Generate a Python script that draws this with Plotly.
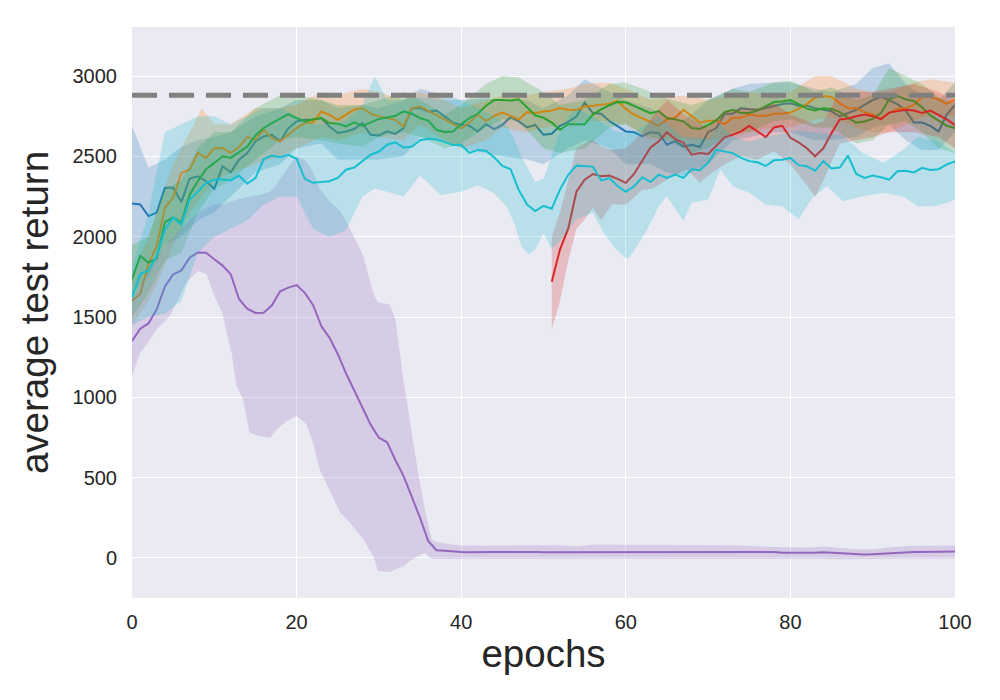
import plotly.graph_objects as go

# epochs 0..100
epochs = list(range(101))
red_epochs = list(range(51, 101))

blue = [2207, 2200, 2128, 2150, 2304, 2304, 2215, 2362, 2376, 2345, 2298, 2438, 2401, 2479, 2521, 2593, 2624,
        2634, 2593, 2676, 2717, 2727, 2730, 2738, 2686, 2645, 2655, 2670, 2707, 2634, 2630, 2655, 2640, 2676,
        2800, 2800, 2779, 2785, 2748, 2710, 2696, 2690, 2655, 2700, 2669, 2696, 2744, 2717, 2680, 2696, 2634,
        2640, 2690, 2715, 2748, 2835, 2769, 2765, 2720, 2686, 2655, 2650, 2625, 2650, 2645, 2572, 2595, 2560,
        2572, 2558, 2650, 2676, 2765, 2765, 2800, 2793, 2790, 2800, 2815, 2826, 2830, 2815, 2815, 2800, 2790,
        2780, 2748, 2770, 2790, 2820, 2850, 2870, 2850, 2825, 2785, 2710, 2710, 2690, 2655, 2760, 2820]

orange = [1601, 1643, 1829, 1942, 2180, 2242, 2397, 2417, 2521, 2490, 2550, 2552, 2521, 2558, 2620, 2603, 2665,
          2614, 2593, 2634, 2676, 2707, 2711, 2779, 2758, 2727, 2758, 2790, 2800, 2765, 2750, 2740, 2727, 2686,
          2800, 2810, 2785, 2760, 2730, 2702, 2675, 2710, 2760, 2720, 2752, 2772, 2750, 2730, 2775, 2770, 2779,
          2785, 2800, 2790, 2789, 2810, 2815, 2822, 2828, 2845, 2795, 2760, 2740, 2715, 2690, 2731, 2740, 2789,
          2750, 2710, 2722, 2722, 2700, 2740, 2740, 2760, 2752, 2752, 2765, 2766, 2772, 2795, 2825, 2865, 2876,
          2870, 2830, 2800, 2800, 2775, 2760, 2735, 2770, 2795, 2800, 2820, 2872, 2868, 2855, 2826, 2855]

green = [1736, 1880, 1839, 1864, 2091, 2120, 2087, 2260, 2345, 2420, 2459, 2500, 2490, 2525, 2560, 2630, 2676,
         2707, 2735, 2762, 2738, 2717, 2730, 2738, 2707, 2703, 2686, 2712, 2690, 2710, 2733, 2742, 2752, 2780,
         2765, 2738, 2722, 2665, 2652, 2655, 2700, 2738, 2765, 2815, 2850, 2850, 2848, 2855, 2805, 2755, 2740,
         2710, 2665, 2700, 2700, 2700, 2760, 2792, 2818, 2838, 2836, 2814, 2788, 2769, 2782, 2738, 2730, 2718,
         2676, 2670, 2695, 2725, 2775, 2789, 2770, 2770, 2785, 2810, 2838, 2841, 2850, 2825, 2797, 2786, 2800,
         2795, 2775, 2740, 2710, 2717, 2733, 2770, 2855, 2875, 2855, 2845, 2805, 2755, 2720, 2690, 2676]

red = [1719, 1920, 2050, 2280, 2355, 2390, 2376, 2380, 2360, 2335, 2390, 2470, 2555, 2593, 2650, 2607, 2585,
       2510, 2520, 2515, 2565, 2618, 2635, 2655, 2690, 2655, 2620, 2680, 2690, 2615, 2587, 2550, 2500, 2550,
       2645, 2730, 2735, 2750, 2760, 2750, 2731, 2772, 2779, 2790, 2785, 2770, 2785, 2760, 2730, 2696]

purple = [1350, 1427, 1460, 1548, 1690, 1765, 1790, 1869, 1902, 1900, 1859, 1820, 1766, 1612, 1552, 1525, 1527,
          1573, 1660, 1683, 1699, 1650, 1575, 1444, 1370, 1270, 1150, 1040, 935, 830, 749, 720, 610, 510, 380,
          250, 105, 48, 45, 40, 38, 36, 35, 36, 37, 38, 39, 40, 40, 38, 36, 36, 37, 38, 39, 40, 40, 39, 38, 38,
          40, 40, 40, 40, 40, 40, 39, 39, 39, 38, 38, 38, 38, 38, 38, 38, 37, 38, 37, 33, 32, 31, 30, 33, 35, 32,
          28, 24, 22, 22, 24, 27, 30, 34, 36, 38, 38, 39, 40, 40, 40]

cyan = [1622, 1767, 1790, 1880, 2045, 2120, 2076, 2231, 2280, 2335, 2355, 2358, 2350, 2380, 2330, 2365, 2483,
        2505, 2495, 2510, 2485, 2360, 2335, 2340, 2345, 2366, 2417, 2430, 2470, 2510, 2530, 2572, 2587, 2555,
        2560, 2600, 2610, 2605, 2590, 2570, 2572, 2521, 2540, 2535, 2495, 2440, 2420, 2290, 2200, 2159, 2192,
        2174, 2293, 2385, 2442, 2440, 2436, 2350, 2365, 2315, 2280, 2314, 2370, 2340, 2386, 2366, 2386, 2366,
        2420, 2414, 2459, 2541, 2530, 2520, 2490, 2470, 2463, 2440, 2475, 2479, 2490, 2445, 2438, 2410, 2470,
        2425, 2430, 2504, 2390, 2365, 2380, 2370, 2355, 2407, 2410, 2400, 2428, 2415, 2420, 2450, 2469]

# spread bands (epoch, lower, upper)
blue_band_x = [0, 2, 4, 6, 8, 10, 12, 15, 18, 20, 23, 25, 28, 30, 33, 35, 38, 40, 43, 45, 48, 50, 53, 55, 58, 60,
               63, 65, 67, 70, 73, 75, 78, 80, 83, 85, 88, 90, 92, 94, 96, 98, 100]
blue_lo = [1650, 1750, 1950, 2000, 2100, 2150, 2250, 2400, 2450, 2550, 2580, 2480, 2480, 2480, 2500, 2620, 2600,
           2550, 2520, 2500, 2480, 2450, 2550, 2600, 2550, 2450, 2450, 2400, 2380, 2450, 2600, 2620, 2650, 2650,
           2600, 2600, 2620, 2680, 2700, 2600, 2540, 2540, 2650]
blue_hi = [2690, 2430, 2480, 2560, 2600, 2620, 2650, 2750, 2800, 2850, 2850, 2800, 2820, 2800, 2850, 2920, 2880,
           2850, 2860, 2850, 2850, 2800, 2880, 2980, 2900, 2850, 2800, 2750, 2720, 2850, 2920, 2950, 2960, 2960,
           2920, 2900, 2950, 3050, 3080, 2950, 2880, 2850, 2960]

orange_band_x = [0, 2, 3, 5, 7, 8.5, 10, 12, 15, 18, 20, 23, 25, 28, 30, 33, 35, 38, 40, 43, 45, 48, 50, 53, 55,
                 58, 60, 63, 65, 68, 70, 73, 75, 78, 80, 83, 85, 88, 90, 92, 95, 97, 100]
orange_lo = [1450, 1600, 1700, 1950, 2150, 2250, 2350, 2400, 2450, 2500, 2550, 2620, 2600, 2650, 2620, 2600, 2700,
             2600, 2550, 2600, 2680, 2650, 2680, 2700, 2720, 2720, 2700, 2600, 2620, 2600, 2600, 2620, 2650, 2680,
             2680, 2730, 2750, 2680, 2650, 2650, 2720, 2760, 2750]
orange_hi = [1760, 2000, 2150, 2450, 2650, 2800, 2700, 2700, 2800, 2800, 2820, 2900, 2880, 2920, 2900, 2850, 2900,
             2850, 2800, 2850, 2880, 2880, 2900, 2920, 2950, 2960, 2920, 2850, 2870, 2880, 2850, 2880, 2900, 2880,
             2900, 3000, 3000, 2920, 2900, 2900, 2960, 2980, 2960]

green_band_x = [0, 2, 4, 6, 8, 10, 12, 15, 18, 20, 23, 25, 28, 30, 33, 35, 38, 40, 43, 45, 47, 50, 52, 55, 58, 60,
                63, 65, 68, 70, 73, 75, 78, 80, 83, 85, 88, 90, 92, 94, 96, 98, 100]
green_lo = [1500, 1650, 1850, 1900, 2150, 2300, 2350, 2480, 2600, 2620, 2600, 2580, 2560, 2620, 2650, 2620, 2550,
            2580, 2680, 2730, 2720, 2550, 2520, 2550, 2680, 2700, 2620, 2600, 2520, 2550, 2650, 2650, 2720, 2730,
            2680, 2680, 2580, 2600, 2700, 2720, 2650, 2550, 2520]
green_hi = [1950, 2000, 2300, 2350, 2550, 2650, 2650, 2800, 2880, 2880, 2850, 2820, 2820, 2850, 2900, 2850, 2760,
            2820, 2950, 3000, 2990, 2900, 2820, 2850, 2950, 2960, 2900, 2860, 2820, 2850, 2920, 2900, 2960, 2970,
            2900, 2930, 2850, 2880, 3050, 3000, 2950, 2870, 2830]

red_band_x = [51, 52, 53, 54, 55, 56, 57, 58.3, 60, 62, 63.3, 65, 67.4, 69, 70, 72, 74, 76, 78, 80, 82, 83, 84,
              86, 88, 90, 92, 95, 98, 100]
red_lo = [1420, 1600, 1850, 2050, 2107, 2180, 2100, 2200, 2200, 2290, 2300, 2355, 2420, 2335, 2380, 2450, 2500,
          2480, 2530, 2450, 2320, 2250, 2350, 2580, 2600, 2620, 2650, 2650, 2620, 2550]
red_hi = [2000, 2150, 2350, 2550, 2580, 2600, 2560, 2540, 2550, 2650, 2750, 2850, 2750, 2700, 2680, 2780, 2800,
          2800, 2830, 2760, 2720, 2700, 2720, 2900, 2900, 2900, 2920, 2950, 2900, 2850]

purple_band_x = [0, 1, 2.2, 3, 4.6, 6.6, 8, 9.1, 10, 11, 11.5, 12.1, 12.7, 13.5, 14.3, 15.5, 16.8, 17.6, 18.8, 20,
                 21.2, 22, 22.8, 24, 25.3, 26.5, 28.1, 29.3, 29.9, 31.3, 32, 33, 34, 34.8, 35.6, 36.4, 37, 38, 40,
                 44, 48, 52, 54, 56, 62, 68, 74, 78, 82, 84, 86, 88, 90, 92, 94, 100]
purple_lo = [1133, 1278, 1361, 1423, 1506, 1714, 1786, 1766, 1631, 1527, 1402, 1278, 1070, 987, 780, 759, 749, 801,
             853, 884, 832, 718, 552, 427, 282, 220, 116, 12, -81, -87, -70, -50, -10, 12, 33, -4, -5, -5, -5, -3,
             -3, -3, -3, -3, -3, -3, -3, -5, -5, -5, -8, -8, -8, -5, -3, -3]
purple_hi = [1620, 1700, 1800, 1870, 1980, 2080, 2150, 2180, 2200, 2200, 2210, 2220, 2230, 2240, 2250, 2260, 2280,
             2330, 2420, 2500, 2470, 2400, 2300, 2220, 2160, 2050, 1880, 1650, 1590, 1580, 1485, 1100, 780, 520,
             300, 115, 100, 90, 78, 76, 80, 80, 72, 82, 82, 82, 78, 68, 65, 72, 62, 55, 55, 65, 75, 78]

cyan_band_x = [0, 2, 4, 6, 8, 10, 12, 14, 16, 18, 20, 22, 24, 26, 28, 29.5, 31, 33, 35, 37.5, 40, 42, 44, 45.5,
               46.5, 47.3, 48.2, 49, 50, 51, 52, 53, 54, 56, 57.3, 59, 60.2, 61, 62.6, 64, 65, 67, 68, 70, 71.5,
               73, 75, 77, 79, 81, 82.5, 84.4, 86.4, 88.8, 91.3, 93.7, 95.5, 97.5, 99, 100]
cyan_lo = [1450, 1500, 1520, 1600, 1900, 2000, 2050, 2100, 2200, 2250, 2250, 2050, 2000, 2040, 2250, 2300, 2280,
           2250, 2380, 2260, 2280, 2320, 2270, 2190, 2076, 1942, 1890, 1921, 2020, 1921, 1973, 2035, 2107, 2149,
           2025, 1911, 1860, 1911, 2045, 2190, 2252, 2097, 2211, 2231, 2417, 2314, 2273, 2200, 2190, 2107, 2231,
           2314, 2220, 2252, 2273, 2250, 2190, 2190, 2211, 2230]
cyan_hi = [1800, 2150, 2650, 2700, 2750, 2750, 2700, 2750, 2800, 2800, 2750, 2700, 2700, 2720, 2820, 3000, 2850,
           2850, 2870, 2850, 2850, 2800, 2750, 2700, 2600, 2500, 2420, 2340, 2360, 2500, 2650, 2750, 2800, 2750,
           2700, 2650, 2650, 2650, 2700, 2750, 2700, 2620, 2620, 2610, 2700, 2620, 2590, 2624, 2640, 2660, 2650,
           2640, 2630, 2520, 2460, 2540, 2620, 2600, 2560, 2520]

expert_return = 2880

series = [
    (epochs, blue, blue_band_x, blue_lo, blue_hi, (31, 119, 180)),
    (epochs, orange, orange_band_x, orange_lo, orange_hi, (255, 127, 14)),
    (epochs, green, green_band_x, green_lo, green_hi, (44, 160, 44)),
    (red_epochs, red, red_band_x, red_lo, red_hi, (214, 39, 40)),
    (epochs, purple, purple_band_x, purple_lo, purple_hi, (148, 103, 189)),
    (epochs, cyan, cyan_band_x, cyan_lo, cyan_hi, (23, 190, 207)),
]

fig = go.Figure()
for x, y, bx, lo, hi, (r, g, b) in series:
    fig.add_trace(go.Scatter(x=bx + bx[::-1], y=hi + lo[::-1], fill='toself',
                             fillcolor='rgba(%d,%d,%d,0.23)' % (r, g, b), line=dict(width=0),
                             mode='lines', hoverinfo='skip', showlegend=False))
    fig.add_trace(go.Scatter(x=x, y=y, mode='lines', line=dict(color='rgb(%d,%d,%d)' % (r, g, b), width=2),
                             showlegend=False))

fig.add_hline(y=expert_return, line=dict(color='#808080', width=5, dash='25px,12px'))

font = 'Liberation Sans, Arial, sans-serif'
fig.update_layout(
    width=1000, height=700,
    margin=dict(l=124, r=53, t=19, b=110),
    paper_bgcolor='white', plot_bgcolor='#EAEAF2',
    font=dict(family=font, color='#262626'),
    showlegend=False,
)
fig.update_xaxes(range=[0, 100], tickvals=[0, 20, 40, 60, 80, 100], gridcolor='white', gridwidth=1.3,
                 zeroline=False, showline=False, tickfont=dict(size=20), ticklabelstandoff=10,
                 title=dict(text='epochs', font=dict(size=38.5), standoff=8))
fig.update_yaxes(range=[-249, 3305], tickvals=[0, 500, 1000, 1500, 2000, 2500, 3000], gridcolor='white',
                 gridwidth=1.3, zeroline=False, showline=False, tickfont=dict(size=20), ticklabelstandoff=14,
                 title=dict(text='average test return', font=dict(size=38.5), standoff=12))

fig.write_html("out.html")
